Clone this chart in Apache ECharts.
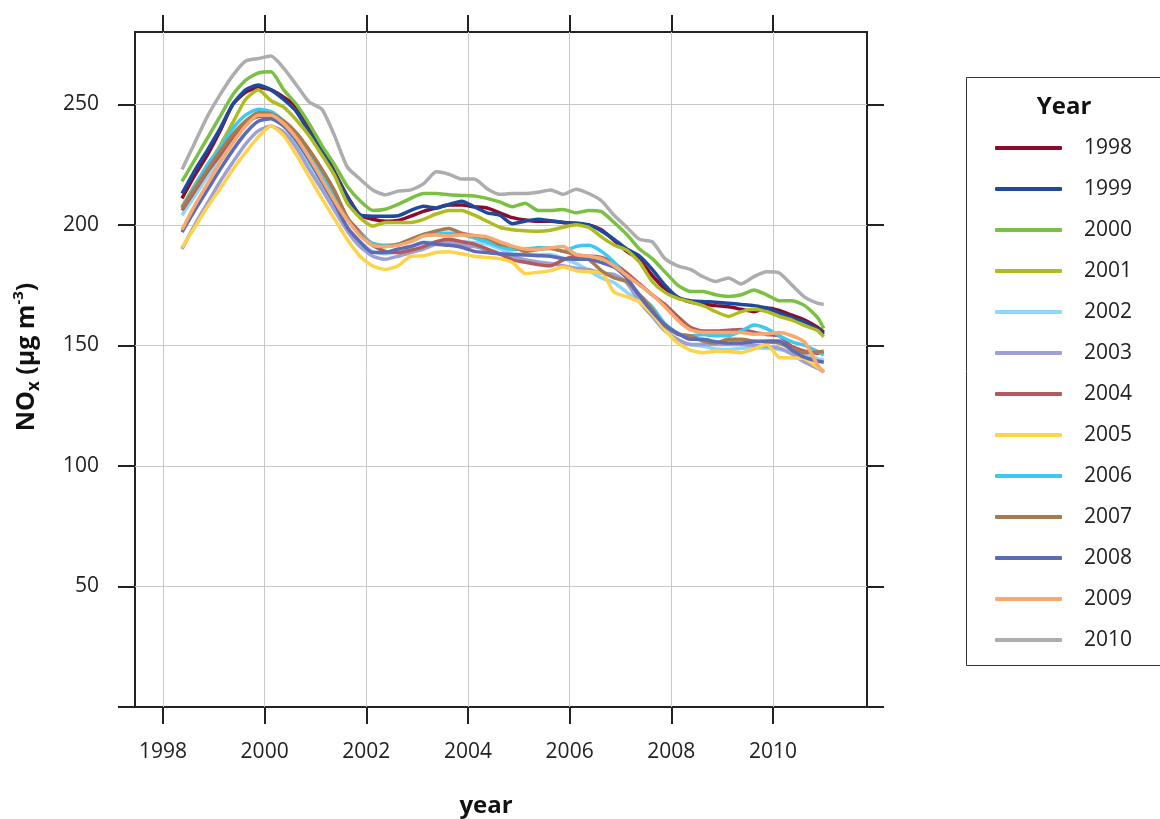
<!DOCTYPE html>
<html>
<head>
<meta charset="utf-8">
<script src="https://cdn.jsdelivr.net/npm/echarts@6/dist/echarts.min.js"></script>
<style>
html,body{margin:0;padding:0;background:#fff;}
#chart{width:1160px;height:819px;}
</style>
</head>
<body>
<div id="chart"></div>
<script>
// time axis (decimal years) shared by all series
const t = [1998.375,1998.625,1998.875,1999.125,1999.375,1999.625,1999.875,2000.125,2000.375,2000.625,
  2000.875,2001.125,2001.375,2001.625,2001.875,2002.125,2002.375,2002.625,2002.875,2003.125,
  2003.375,2003.625,2003.875,2004.125,2004.375,2004.625,2004.875,2005.125,2005.375,2005.625,
  2005.875,2006.125,2006.375,2006.625,2006.875,2007.125,2007.375,2007.625,2007.875,2008.125,
  2008.375,2008.625,2008.875,2009.125,2009.375,2009.625,2009.875,2010.125,2010.375,2010.625,
  2010.875,2011.0];

const nox1998 = [211,220.5,229,239,250,255,257,256,253,249,241,232,222,212,204,202.3,201.5,201.8,203.6,205.6,207,208.2,208.2,207.5,207,205,203,202,201.5,201.5,201,200.4,200,198,193.5,189,185.5,179,173.5,170,168,167.2,166.5,166,165,164,165.5,164.5,162.5,160.5,157.5,155.4];
const nox1999 = [213,222.5,231,240,250,256,258,256,252,247,238.5,231,221.5,211.5,204.2,203.6,203.6,203.8,206,207.7,207,208.5,209.8,207.5,205,204,200.5,201.5,202.3,201.7,201,200.8,200,197.5,194,190,187,181.5,175,170,168.5,168.2,167.9,167.5,167,166.5,165.5,163.5,161.5,159.7,156.8,154.6];
const nox2000 = [218,227,236,245,254,260,263,263.5,256,250,242,233,225,216,210,206,206.5,208.5,211,213,213,212.5,212.2,212,211,209.5,207.5,209,206,206,206.4,205,206,205.5,201,196,190,186,180.5,175,172.4,172.4,171,170.3,171,173,171,168.5,168.5,166.5,161.6,157];
const nox2001 = [207.5,216.5,224.5,233,242.5,252,256,251.5,248.8,243.5,237,229,220.5,209,203,199.5,201,201,201,202.3,204.5,206,206,204,201.5,199,198,197.6,197.4,197.8,199,200,199,195,191.6,189.5,184.5,176.5,172,169.5,168,166.5,164,162,164,165,164,162,160.5,158.2,156.2,153.5];
const nox2002 = [204,212,220,228,236,242,246,245,241,234,225,216,207,199,193,189,188,189,191,192.7,192.7,193.3,193,192.7,192,190,188,187.8,187.7,187.7,186,184,181,178,176,172,168.5,164,157,152,150.4,149.7,148.5,148.3,148.8,149,148.8,148.3,147.5,146,144.5,144];
const nox2003 = [190,200,209,218,226,233.5,239,241,238.5,232,223,214.7,206,197.5,191,187,185.7,187,188.5,190,192,192.7,191.5,191,189.5,188,187,185.5,184.6,184,183,182,181.5,180,179.5,176,168,162,156,152.5,150.4,150.4,150.4,150.4,150.4,150,149.5,148.8,146.3,143,140.5,139];
const nox2004 = [206,214,222,229,236.5,242,245,245,243,238,231,223,214,203,197,191.5,189,188.5,189.5,191,193,194,193,192,190,188,185.5,184.5,183.5,183,185.5,187,187,186.5,184,180,175.5,171,167,162,157.5,156,156,156.3,156.6,155.5,154.5,153.9,149.5,147.6,146.7,146.7];
const nox2005 = [190.6,199,207.5,215,223,230,236.5,241,237,229,220,211,202.5,194,187,183,181.5,183,187,187.2,188.5,188.8,188,187,186.5,186,184.4,179.8,180.3,181,182.5,181,180.5,180.3,172,170.2,168,163,156.5,151,148,147,147.6,147.5,147,148.5,150.4,145,144.8,144.5,141,139.3];
const nox2006 = [207,216,225,232,240,245.5,248,247,243,237,229,221,212,202,196.5,192.3,191.5,192,194,196,196.5,196.5,196,194.5,193,191,189.8,190,190.5,190.5,189,191,191.5,189,184.5,178,171,166,159,155,154,154.5,154,154,156,158.5,157,154,151.5,150,147.5,146];
const nox2007 = [207,215,223,230.5,237.5,243,246.5,246,243,238,231,223,214,203,196,191.5,191,192,194,196,197.5,198.5,196.5,195.5,194.5,192,191,189,189.8,190.2,189,187.7,185.7,181,178,176.5,171,165,158,154.6,153.9,151.8,151,152.5,152.5,151.8,151.5,151,148.5,147,147.3,147.6];
const nox2008 = [197,206,214.5,223,231,238,243,244,241,235,227,218,209,199,193,188.5,188.5,190,191,192.7,192,191.5,190.7,189,188.5,188,187.7,187.5,187.2,187,186,185.7,185.7,184.4,182.5,178,170.5,164,158.5,155,152.5,152.5,151.5,151,151,151.5,151.8,151.8,148,145,143.5,143];
const nox2009 = [198,208,217,226,234,241,245.5,245.5,242,236,228,219,210,202,195.5,191.5,191,191.5,193,195.4,195.8,195.4,195.8,195.6,195,193,191.2,190,189.8,190.5,191,187.7,187,186,183,179,175,171,166,160.5,156.5,155.4,155.4,155.4,155.4,154.6,154.8,155.4,154,151.3,142,138.8];
const nox2010 = [223,234,245,254,262,268,269,270,265,258,251,248,237,224,219,214.5,212.5,214,214.5,217,222,221,219,219,215,212.7,213,213,213.5,214.5,212.7,214.8,213,210,204,199,194,193,186,183,181.5,178.5,176.5,178,175.5,178.5,180.5,180,175,170,167.5,167];

const seriesNames = ['1998','1999','2000','2001','2002','2003','2004','2005','2006','2007','2008','2009','2010'];
const seriesValues = [nox1998,nox1999,nox2000,nox2001,nox2002,nox2003,nox2004,nox2005,nox2006,nox2007,nox2008,nox2009,nox2010];
const seriesColors = ['#8C0A2C','#1D4A9C','#7AC143','#AEBC1F','#8ED7F6','#9E9FD4','#B25A5C','#FFD24C','#3DC8F2','#A87B4E','#5C6BB5','#F9A870','#ADADAD'];

const xTicks = [1998,2000,2002,2004,2006,2008,2010];
const yTicks = [0,50,100,150,200,250];
const yLabels = [50,100,150,200,250];

const FONT = '"Open Sans", "Noto Sans", sans-serif';
const AXC = '#222';

const chart = echarts.init(document.getElementById('chart'), null, {renderer: 'canvas'});

const gridLines = xTicks.map(v => ({xAxis: v})).concat(yLabels.map(v => ({yAxis: v})));

const series = seriesNames.map((n, i) => {
  const s = {
    name: n,
    type: 'line',
    data: t.map((x, j) => [x, seriesValues[i][j]]),
    showSymbol: false,
    symbol: 'none',
    smooth: 0.2,
    lineStyle: {width: 3.5, color: seriesColors[i]},
    itemStyle: {color: seriesColors[i]},
    z: 3,
    silent: true
  };
  if (i === 0) {
    s.markLine = {
      z: 1,
      silent: true,
      symbol: ['none', 'none'],
      label: {show: false},
      lineStyle: {color: '#c8c8c8', type: 'solid', width: 1},
      emphasis: {disabled: true},
      data: gridLines
    };
  }
  return s;
});

const plainNum = v => String(v);

const axisCommonX = {
  type: 'value',
  min: 1997.45,
  max: 2011.85,
  axisLine: {show: true, onZero: false, lineStyle: {color: AXC, width: 2}},
  axisTick: {show: true, customValues: xTicks, length: 17, inside: false, lineStyle: {color: AXC, width: 2}},
  splitLine: {show: false}
};
const axisCommonY = {
  type: 'value',
  min: 0,
  max: 280,
  axisLine: {show: true, onZero: false, lineStyle: {color: AXC, width: 2}},
  axisTick: {show: true, customValues: yTicks, length: 17, inside: false, lineStyle: {color: AXC, width: 2}},
  splitLine: {show: false}
};

const option = {
  animation: false,
  backgroundColor: '#ffffff',
  grid: {left: 135, right: 293, top: 32, bottom: 112, containLabel: false},
  xAxis: [
    Object.assign({}, axisCommonX, {
      position: 'bottom',
      axisLabel: {show: true, customValues: xTicks, formatter: plainNum, margin: 35, fontSize: 21, color: AXC, fontFamily: FONT}
    }),
    Object.assign({}, axisCommonX, {
      position: 'top',
      axisLabel: {show: false}
    })
  ],
  yAxis: [
    Object.assign({}, axisCommonY, {
      position: 'left',
      axisLabel: {show: true, customValues: yLabels, formatter: plainNum, margin: 36, fontSize: 21, color: AXC, fontFamily: FONT}
    }),
    Object.assign({}, axisCommonY, {
      position: 'right',
      axisLabel: {show: false}
    })
  ],
  legend: {
    show: true,
    orient: 'vertical',
    left: 995,
    top: 136,
    padding: 0,
    itemWidth: 67,
    itemHeight: 4,
    itemGap: 17,
    icon: 'roundRect',
    selectedMode: false,
    data: seriesNames,
    textStyle: {fontSize: 21, lineHeight: 24, color: AXC, fontFamily: FONT, padding: [0, 0, 0, 17]}
  },
  graphic: [
    {
      type: 'rect',
      left: 964, top: 75,
      shape: {width: 194, height: 588},
      style: {fill: 'none', stroke: '#333', lineWidth: 1},
      silent: true
    },
    {
      type: 'text',
      x: 1064, y: 107,
      style: {text: 'Year', font: 'bold 24px ' + FONT, fill: '#111', align: 'center', verticalAlign: 'middle'},
      silent: true
    },
    {
      type: 'text',
      x: 486, y: 806,
      style: {text: 'year', font: 'bold 24px ' + FONT, fill: '#111', align: 'center', verticalAlign: 'middle'},
      silent: true
    },
    {
      type: 'text',
      x: 27, y: 357,
      rotation: Math.PI / 2,
      style: {
        text: '{a|NO}{s|x}{a| (μg m}{p|-3}{a|)}',
        align: 'center',
        verticalAlign: 'middle',
        fill: '#111',
        rich: {
          a: {fontSize: 25, fontWeight: 'bold', fontFamily: FONT, lineHeight: 32, fill: '#111'},
          s: {fontSize: 17, fontWeight: 'bold', fontFamily: FONT, lineHeight: 17, verticalAlign: 'bottom', fill: '#111'},
          p: {fontSize: 15, fontWeight: 'bold', fontFamily: FONT, lineHeight: 15, verticalAlign: 'top', fill: '#111'}
        }
      },
      silent: true
    }
  ],
  series: series
};

chart.setOption(option);
</script>
</body>
</html>
